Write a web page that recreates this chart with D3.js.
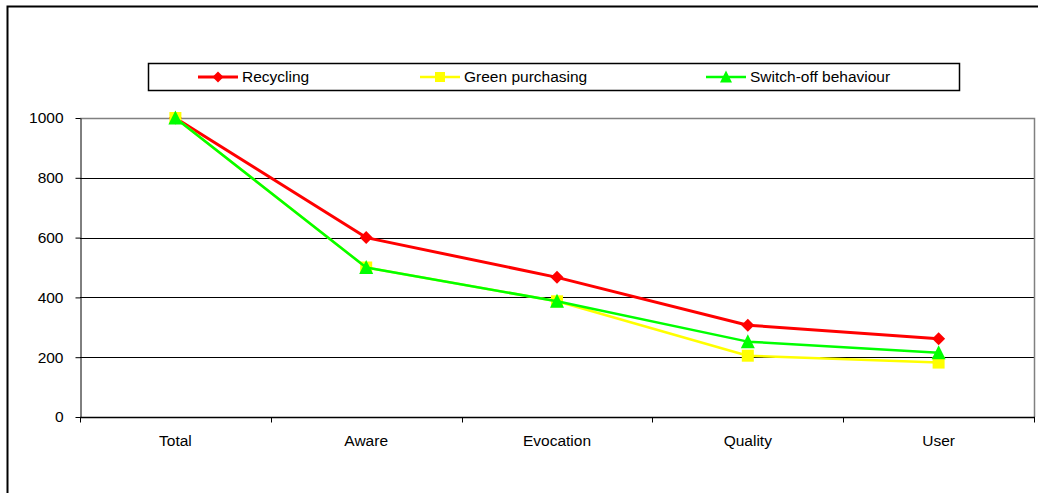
<!DOCTYPE html>
<html>
<head>
<meta charset="utf-8">
<script src="https://cdn.jsdelivr.net/npm/d3@7"></script>
<style>
  html, body { margin: 0; padding: 0; background: #fff; }
  svg { display: block; font-family: "Liberation Sans", Arial, sans-serif; }
</style>
</head>
<body>
<svg id="chart" width="1038" height="493"></svg>
<script>
// Funnel stages and counts per behaviour
const categories = ["Total", "Aware", "Evocation", "Quality", "User"];
const recycling = [1000, 600, 467, 307, 262];
const greenPurchasing = [1000, 500, 387, 205, 182];
const switchOff = [1000, 500, 387, 252, 215];
const yTicks = [0, 200, 400, 600, 800, 1000];

const series = [
  { name: "Recycling", values: recycling, color: "#ff0000", marker: "diamond", width: 3 },
  { name: "Green purchasing", values: greenPurchasing, color: "#ffff00", marker: "square", width: 2.5 },
  { name: "Switch-off behaviour", values: switchOff, color: "#00ff00", marker: "triangle", width: 2.5 }
];

const FONT = 15.5;
const svg = d3.select("#chart");
const plot = { left: 80, right: 1034, top: 118, bottom: 417 };

// Outer chart frame (runs off the right and bottom edges)
svg.append("path")
  .attr("d", "M7.5,500 V6.5 H1045")
  .attr("fill", "none")
  .attr("stroke", "#000")
  .attr("stroke-width", 2);

const x = d3.scaleBand().domain(categories).range([plot.left, plot.right]).padding(0);
const y = d3.scaleLinear().domain([0, 1000]).range([plot.bottom, plot.top]);
const cx = d => x(d) + x.bandwidth() / 2;

// Horizontal gridlines
svg.append("g").selectAll("line")
  .data(yTicks.filter(t => t > 0 && t < 1000))
  .join("line")
  .attr("x1", plot.left).attr("x2", plot.right)
  .attr("y1", d => Math.round(y(d)) + 0.5).attr("y2", d => Math.round(y(d)) + 0.5)
  .attr("stroke", "#000").attr("stroke-width", 1);

// Plot area border (top and right)
svg.append("path")
  .attr("d", `M${plot.left},${plot.top + 0.5} H${plot.right + 0.5} V${plot.bottom}`)
  .attr("fill", "none").attr("stroke", "#808080").attr("stroke-width", 1.5);

// Y axis
const yAxis = svg.append("g")
  .attr("transform", `translate(${plot.left + 0.5},0)`)
  .call(d3.axisLeft(y).tickValues(yTicks).tickFormat(d3.format("d"))
    .tickSize(5).tickSizeOuter(0).tickPadding(12));
yAxis.select(".domain").attr("stroke", "#000");
yAxis.selectAll(".tick line").attr("stroke", "#000");
yAxis.selectAll("text").attr("font-size", FONT).attr("fill", "#000")
  .attr("font-family", "'Liberation Sans', Arial, sans-serif");

// X axis with ticks at category boundaries
const xAxisG = svg.append("g").attr("transform", `translate(0,${plot.bottom + 0.5})`);
xAxisG.append("line")
  .attr("x1", plot.left).attr("x2", plot.right + 1)
  .attr("stroke", "#000").attr("stroke-width", 1.5);
const bounds = categories.map(c => x(c)).concat([plot.right]);
xAxisG.selectAll("line.tk").data(bounds).join("line")
  .attr("class", "tk")
  .attr("x1", d => Math.round(d) + 0.5).attr("x2", d => Math.round(d) + 0.5)
  .attr("y1", 0).attr("y2", 5)
  .attr("stroke", "#000");
xAxisG.selectAll("text").data(categories).join("text")
  .attr("x", d => cx(d)).attr("y", 28)
  .attr("text-anchor", "middle")
  .attr("font-size", FONT).attr("fill", "#000")
  .text(d => d);

// Marker shapes
function markerPath(type, size) {
  const h = size / 2;
  if (type === "diamond") return `M0,${-h} L${h},0 L0,${h} L${-h},0 Z`;
  if (type === "square") return `M${-h},${-h} H${h} V${h} H${-h} Z`;
  return `M0,${-h - 1} L${h + 0.5},${h} L${-h - 0.5},${h} Z`;
}
const markerSize = { diamond: 13, square: 12, triangle: 13 };

const line = d3.line().x((d, i) => cx(categories[i])).y(d => y(d));

series.forEach(s => {
  const g = svg.append("g");
  g.append("path")
    .datum(s.values)
    .attr("d", line)
    .attr("fill", "none")
    .attr("stroke", s.color)
    .attr("stroke-width", s.width)
    .attr("stroke-linejoin", "round");
  g.selectAll("path.mk").data(s.values).join("path")
    .attr("class", "mk")
    .attr("transform", (d, i) => `translate(${cx(categories[i])},${y(d)})`)
    .attr("d", markerPath(s.marker, markerSize[s.marker]))
    .attr("fill", s.color);
});

// Legend
const legend = svg.append("g");
legend.append("rect")
  .attr("x", 148.5).attr("y", 63.5).attr("width", 811).attr("height", 27)
  .attr("fill", "#fff").attr("stroke", "#000").attr("stroke-width", 1.5);
const legendX = [198, 420, 706];
series.forEach((s, i) => {
  const lx = legendX[i];
  const ly = 77;
  legend.append("line")
    .attr("x1", lx).attr("x2", lx + 40).attr("y1", ly).attr("y2", ly)
    .attr("stroke", s.color).attr("stroke-width", s.width);
  legend.append("path")
    .attr("transform", `translate(${lx + 20},${ly})`)
    .attr("d", markerPath(s.marker, markerSize[s.marker] - 2))
    .attr("fill", s.color);
  legend.append("text")
    .attr("x", lx + 44).attr("y", ly + 5)
    .attr("font-size", FONT).attr("fill", "#000")
    .text(s.name);
});
</script>
</body>
</html>
